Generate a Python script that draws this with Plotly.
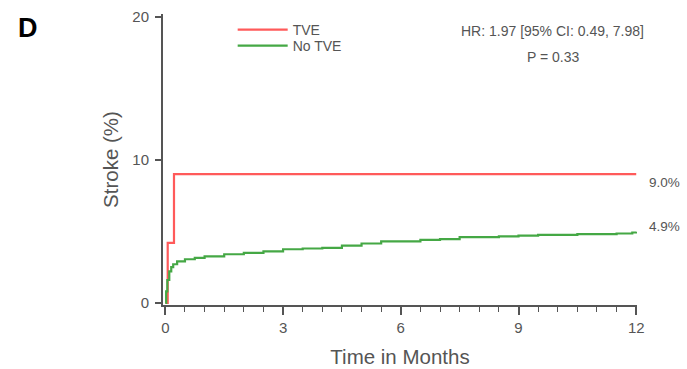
import plotly.graph_objects as go

# Data
tve_time = [0, 0.06, 0.22, 12]
tve_pct = [0, 4.2, 9.0, 9.0]

notve_time = [0, 0.02, 0.05, 0.1, 0.15, 0.2, 0.3, 0.5, 0.75, 1, 1.5, 2, 2.5, 3, 3.5,
              4, 4.5, 5, 5.5, 6, 6.5, 7, 7.5, 8, 8.5, 9, 9.5, 10, 10.5, 11, 11.5, 11.9, 12]
notve_pct = [0, 0.8, 1.6, 2.2, 2.5, 2.7, 2.9, 3.05, 3.15, 3.25, 3.4, 3.5, 3.6, 3.75, 3.8,
             3.85, 4.0, 4.15, 4.3, 4.3, 4.4, 4.45, 4.6, 4.6, 4.65, 4.7, 4.75, 4.75, 4.8, 4.8, 4.85, 4.92, 4.97]

x_ticks = [0, 3, 6, 9, 12]
y_ticks = [0, 10, 20]
end_labels = ["9.0%", "4.9%"]
end_values = [9.0, 4.97]

RED = "#FF5A5A"
GREEN = "#45A845"
AX = "#555555"
TXT = "#555555"
FONT = "Liberation Sans, Arial"

fig = go.Figure()
fig.add_trace(go.Scatter(x=tve_time, y=tve_pct, mode="lines", line_shape="hv",
                         line=dict(color=RED, width=2.2), name="TVE", legend="legend"))
fig.add_trace(go.Scatter(x=notve_time, y=notve_pct, mode="lines", line_shape="hv",
                         line=dict(color=GREEN, width=2.2), name="No TVE", legend="legend2"))

label_shifts = [-8, 5]
for lab, v, s in zip(end_labels, end_values, label_shifts):
    fig.add_annotation(x=12, y=v, xref="x", yref="y", text=lab, showarrow=False,
                       xanchor="left", xshift=11, yshift=s,
                       font=dict(family=FONT, size=13.5, color=TXT))

fig.add_annotation(x=0.8207, y=0.9416, xref="paper", yref="paper",
                   text="HR: 1.97 [95% CI: 0.49, 7.98]", showarrow=False,
                   xanchor="center", yanchor="middle",
                   font=dict(family=FONT, size=14, color=TXT))
fig.add_annotation(x=0.823, y=0.852, xref="paper", yref="paper",
                   text="P = 0.33", showarrow=False,
                   xanchor="center", yanchor="middle",
                   font=dict(family=FONT, size=14, color=TXT))

fig.add_annotation(x=(16 - 163) / 474, y=(305 - 11) / 291, xref="paper", yref="paper",
                   text="<b>D</b>", showarrow=False, xanchor="left", yanchor="top",
                   font=dict(family=FONT, size=27, color="black"))

leg_common = dict(xanchor="left", yanchor="top", bgcolor="rgba(0,0,0,0)",
                  font=dict(size=14, color=TXT), itemwidth=50)

fig.update_layout(
    width=687, height=369,
    margin=dict(l=163, r=50, t=14, b=64),
    paper_bgcolor="white", plot_bgcolor="white",
    font=dict(family=FONT, color=TXT),
    showlegend=True,
    legend=dict(x=0.147, y=1.0, **leg_common),
    legend2=dict(x=0.147, y=(305 - 30) / 291, **leg_common),
    xaxis=dict(range=[-0.06, 12.02], tickvals=x_ticks, ticks="outside", ticklen=8,
               tickwidth=1.5, tickcolor=AX, showline=True, linecolor=AX, linewidth=2,
               showgrid=False, zeroline=False, automargin=False,
               tickfont=dict(size=15, color=TXT),
               minor=dict(dtick=0.5, ticks="outside", ticklen=5, tickcolor=AX, tickwidth=1.2),
               title=dict(text="Time in Months", font=dict(size=20.5, color=TXT), standoff=15)),
    yaxis=dict(range=[-0.15, 20.2], tickvals=y_ticks, ticks="outside", ticklen=6,
               tickwidth=1.5, tickcolor=AX, showline=True, linecolor=AX, linewidth=2,
               showgrid=False, zeroline=False, automargin=False,
               tickfont=dict(size=15, color=TXT), ticklabelstandoff=3,
               title=dict(text="Stroke (%)", font=dict(size=20.5, color=TXT), standoff=8)),
)

fig.write_html("out.html", post_script="document.body.style.margin='0';",
               config={"displayModeBar": False})
